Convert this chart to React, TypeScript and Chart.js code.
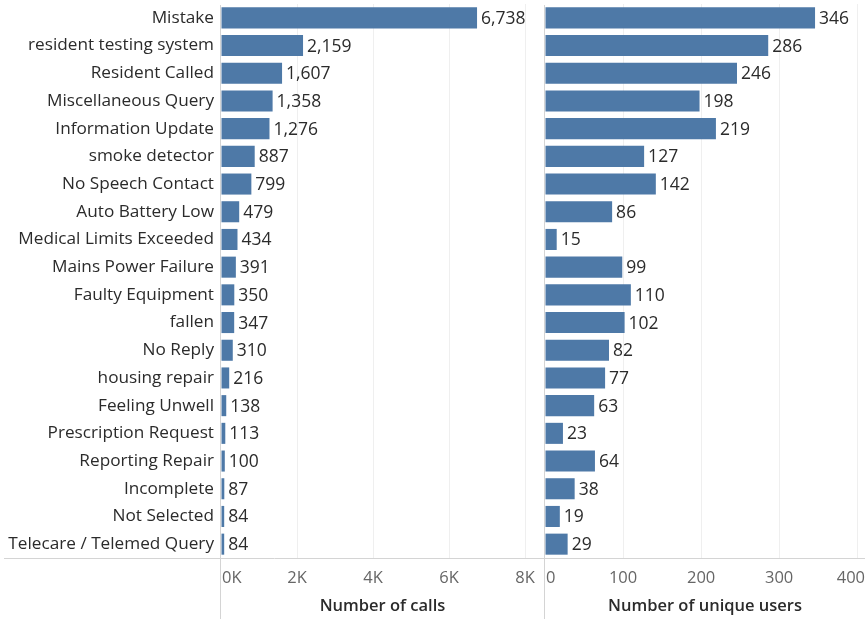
import React, { useEffect, useRef } from "react";
import { Chart, registerables } from "chart.js";

Chart.register(...registerables);

const categories = [
  "Mistake",
  "resident testing system",
  "Resident Called",
  "Miscellaneous Query",
  "Information Update",
  "smoke detector",
  "No Speech Contact",
  "Auto Battery Low",
  "Medical Limits Exceeded",
  "Mains Power Failure",
  "Faulty Equipment",
  "fallen",
  "No Reply",
  "housing repair",
  "Feeling Unwell",
  "Prescription Request",
  "Reporting Repair",
  "Incomplete",
  "Not Selected",
  "Telecare / Telemed Query",
];

const callCounts = [6738, 2159, 1607, 1358, 1276, 887, 799, 479, 434, 391, 350, 347, 310, 216, 138, 113, 100, 87, 84, 84];
const uniqueUsers = [346, 286, 246, 198, 219, 127, 142, 86, 15, 99, 110, 102, 82, 77, 63, 23, 64, 38, 19, 29];

const callTicks = [0, 2000, 4000, 6000, 8000];
const callTickLabels = ["0K", "2K", "4K", "6K", "8K"];
const userTicks = [0, 100, 200, 300, 400];
const userTickLabels = ["0", "100", "200", "300", "400"];

const FONT = '"Open Sans", sans-serif';
const BAR_COLOR = "#4e79a7";
const TEXT = "#2b2b2b";
const TICK_TEXT = "#666666";
const LINE = "#d4d4d4";
const GRID = "#efefef";

type PanelCfg = {
  title: string;
  ticks: number[];
  tickLabels: string[];
  sepX: number;
  lineLeft: number;
};

function panelPlugin(cfg: PanelCfg) {
  return {
    id: "panelDecor",
    afterDatasetsDraw(chart: any) {
      const ctx = chart.ctx;
      const meta = chart.getDatasetMeta(0);
      const data = chart.data.datasets[0].data as number[];
      ctx.save();
      ctx.font = `17.5px ${FONT}`;
      ctx.fillStyle = TEXT;
      ctx.textAlign = "left";
      ctx.textBaseline = "middle";
      meta.data.forEach((bar: any, i: number) => {
        ctx.fillText(data[i].toLocaleString("en-US"), bar.x + 4, bar.y + 1);
      });
      ctx.restore();
    },
    afterDraw(chart: any) {
      const { ctx, chartArea, width, height } = chart;
      const xs = chart.scales.x;
      ctx.save();
      ctx.strokeStyle = LINE;
      ctx.lineWidth = 1;
      ctx.beginPath();
      ctx.moveTo(cfg.sepX + 0.5, chartArea.top + 1);
      ctx.lineTo(cfg.sepX + 0.5, height);
      ctx.moveTo(cfg.lineLeft, chartArea.bottom + 0.5);
      ctx.lineTo(width, chartArea.bottom + 0.5);
      ctx.stroke();

      ctx.font = `16.5px ${FONT}`;
      ctx.fillStyle = TICK_TEXT;
      ctx.textAlign = "left";
      ctx.textBaseline = "middle";
      cfg.ticks.forEach((v, i) => {
        const label = cfg.tickLabels[i];
        const px = xs.getPixelForValue(v);
        const w = ctx.measureText(label).width;
        let left = px - w / 2;
        left = Math.max(chartArea.left + 1, Math.min(left, width - w));
        ctx.fillText(label, left, 578);
      });

      ctx.font = `600 16.5px ${FONT}`;
      ctx.fillStyle = TEXT;
      ctx.textAlign = "center";
      ctx.fillText(cfg.title, (chartArea.left + chartArea.right) / 2, 606);
      ctx.restore();
    },
  };
}

function makeChart(
  canvas: HTMLCanvasElement,
  values: number[],
  max: number,
  ticks: number[],
  showLabels: boolean,
  cfg: PanelCfg,
  padLeft: number,
  padRight: number
) {
  return new Chart(canvas, {
    type: "bar",
    data: {
      labels: categories,
      datasets: [
        {
          data: values,
          backgroundColor: BAR_COLOR,
          borderWidth: 0,
          barPercentage: 0.76,
          categoryPercentage: 1,
        },
      ],
    },
    options: {
      indexAxis: "y",
      animation: false,
      responsive: false,
      maintainAspectRatio: false,
      layout: { padding: { top: 4, bottom: 61, left: padLeft, right: padRight } },
      plugins: { legend: { display: false }, tooltip: { enabled: false } },
      scales: {
        x: {
          type: "linear",
          min: 0,
          max,
          afterBuildTicks: (scale: any) => {
            scale.ticks = ticks.map((v) => ({ value: v }));
          },
          ticks: { display: false },
          grid: {
            color: (c: any) => (c.tick && c.tick.value === 0 ? "rgba(0,0,0,0)" : GRID),
            drawTicks: false,
          },
          border: { display: false },
          title: { display: false },
        },
        y: {
          type: "category",
          display: showLabels,
          afterFit: (scale: any) => {
            if (showLabels) scale.width = 221;
            scale.paddingTop = 0;
            scale.paddingBottom = 0;
          },
          ticks: {
            color: TEXT,
            font: { family: "Open Sans", size: 17.2 },
            padding: 7,
            autoSkip: false,
          },
          grid: { display: false, drawTicks: false },
          border: { display: false },
        },
      },
    },
    plugins: [panelPlugin(cfg)],
  } as any);
}

export default function App() {
  const leftRef = useRef<HTMLCanvasElement>(null);
  const rightRef = useRef<HTMLCanvasElement>(null);

  useEffect(() => {
    const left = makeChart(
      leftRef.current!,
      callCounts,
      8500,
      callTicks,
      true,
      { title: "Number of calls", ticks: callTicks, tickLabels: callTickLabels, sepX: 220, lineLeft: 4 },
      0,
      1
    );
    const right = makeChart(
      rightRef.current!,
      uniqueUsers,
      410,
      userTicks,
      false,
      { title: "Number of unique users", ticks: userTicks, tickLabels: userTickLabels, sepX: 0, lineLeft: 0 },
      1,
      0
    );
    return () => {
      left.destroy();
      right.destroy();
    };
  }, []);

  return (
    <div style={{ position: "fixed", left: 0, top: 0, width: 865, height: 619, background: "#fff" }}>
      <canvas ref={leftRef} width={545} height={619} style={{ position: "absolute", left: 0, top: 0, display: "block" }} />
      <canvas ref={rightRef} width={321} height={619} style={{ position: "absolute", left: 544, top: 0, display: "block" }} />
    </div>
  );
}
